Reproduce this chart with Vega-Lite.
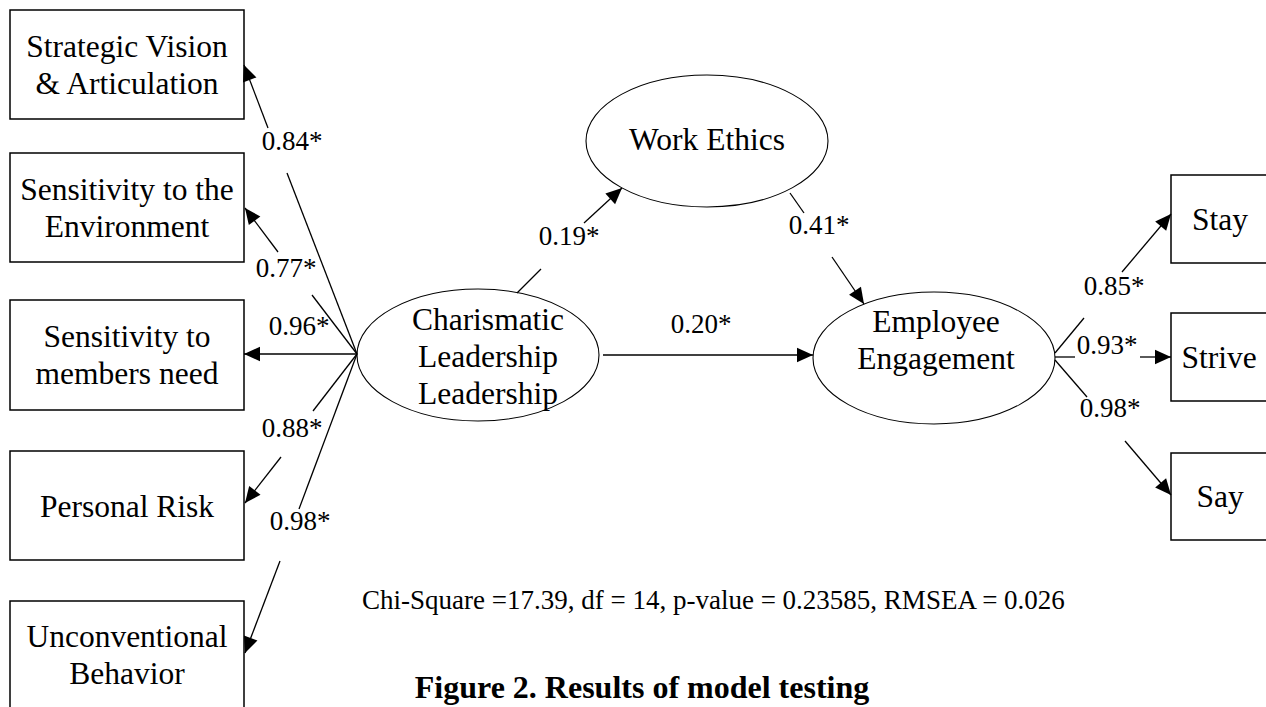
{
  "$schema": "https://vega.github.io/schema/vega-lite/v6.json",
  "width": 1266,
  "height": 707,
  "autosize": {"type": "fit", "contains": "padding"},
  "padding": 0,
  "background": "white",
  "config": {"view": {"stroke": null}},
  "datasets": {
    "boxes": [
      {"node": "Strategic Vision", "x1": 10, "x2": 244, "y1": 10, "y2": 119},
      {"node": "Sensitivity to the Environment", "x1": 10, "x2": 244, "y1": 153, "y2": 262},
      {"node": "Sensitivity to members need", "x1": 10, "x2": 244, "y1": 300, "y2": 410},
      {"node": "Personal Risk", "x1": 10, "x2": 244, "y1": 451, "y2": 560},
      {"node": "Unconventional Behavior", "x1": 10, "x2": 244, "y1": 601, "y2": 711},
      {"node": "Stay", "x1": 1171, "x2": 1272, "y1": 175, "y2": 263},
      {"node": "Strive", "x1": 1171, "x2": 1272, "y1": 313, "y2": 401},
      {"node": "Say", "x1": 1171, "x2": 1272, "y1": 453, "y2": 540}
    ],
    "ellipses": [
      {"node": "Charismatic Leadership", "cx": 478, "cy": 355},
      {"node": "Work Ethics", "cx": 707, "cy": 141},
      {"node": "Employee Engagement", "cx": 934, "cy": 358}
    ],
    "edges": [
      {"path": "CL-SV", "x": 357, "y": 354, "x2": 287, "y2": 173, "head": false},
      {"path": "CL-SV", "x": 268, "y": 128, "x2": 244, "y2": 65, "head": true},
      {"path": "CL-SE", "x": 357, "y": 354, "x2": 312, "y2": 295, "head": false},
      {"path": "CL-SE", "x": 278, "y": 252, "x2": 245, "y2": 208, "head": true},
      {"path": "CL-SM", "x": 357, "y": 354, "x2": 244, "y2": 354, "head": true},
      {"path": "CL-PR", "x": 357, "y": 354, "x2": 313, "y2": 411, "head": false},
      {"path": "CL-PR", "x": 281, "y": 457, "x2": 245, "y2": 503, "head": true},
      {"path": "CL-UB", "x": 357, "y": 354, "x2": 299, "y2": 509, "head": false},
      {"path": "CL-UB", "x": 280, "y": 561, "x2": 245, "y2": 653, "head": true},
      {"path": "CL-WE", "x": 517, "y": 293, "x2": 541, "y2": 269, "head": false},
      {"path": "CL-WE", "x": 584, "y": 223, "x2": 622, "y2": 188, "head": true},
      {"path": "WE-EE", "x": 790, "y": 193, "x2": 804, "y2": 213, "head": false},
      {"path": "WE-EE", "x": 832, "y": 257, "x2": 864, "y2": 304, "head": true},
      {"path": "CL-EE", "x": 603, "y": 355, "x2": 813, "y2": 355, "head": true},
      {"path": "EE-Stay", "x": 1055, "y": 353, "x2": 1084, "y2": 318, "head": false},
      {"path": "EE-Stay", "x": 1122, "y": 272, "x2": 1171, "y2": 214, "head": true},
      {"path": "EE-Strive", "x": 1055, "y": 357, "x2": 1075, "y2": 357, "head": false},
      {"path": "EE-Strive", "x": 1140, "y": 357, "x2": 1171, "y2": 357, "head": true},
      {"path": "EE-Say", "x": 1055, "y": 360, "x2": 1087, "y2": 397, "head": false},
      {"path": "EE-Say", "x": 1125, "y": 441, "x2": 1171, "y2": 495, "head": true}
    ],
    "nodeText": [
      {"text": ["Strategic Vision", "& Articulation"], "x": 127, "y": 57},
      {"text": ["Sensitivity to the", "Environment"], "x": 127, "y": 200},
      {"text": ["Sensitivity to", "members need"], "x": 127, "y": 347},
      {"text": ["Personal Risk"], "x": 127, "y": 517},
      {"text": ["Unconventional", "Behavior"], "x": 127, "y": 647},
      {"text": ["Charismatic", "Leadership", "Leadership"], "x": 488, "y": 330},
      {"text": ["Work Ethics"], "x": 707, "y": 150},
      {"text": ["Employee", "Engagement"], "x": 936, "y": 332},
      {"text": ["Stay"], "x": 1220, "y": 230},
      {"text": ["Strive"], "x": 1219, "y": 368},
      {"text": ["Say"], "x": 1220, "y": 507}
    ],
    "coef": [
      {"text": "0.84*", "x": 292, "y": 150},
      {"text": "0.77*", "x": 286, "y": 277},
      {"text": "0.96*", "x": 299, "y": 335},
      {"text": "0.88*", "x": 292, "y": 437},
      {"text": "0.98*", "x": 300, "y": 530},
      {"text": "0.19*", "x": 569, "y": 245},
      {"text": "0.41*", "x": 819, "y": 234},
      {"text": "0.20*", "x": 701, "y": 333},
      {"text": "0.85*", "x": 1114, "y": 295},
      {"text": "0.93*", "x": 1107, "y": 354},
      {"text": "0.98*", "x": 1110, "y": 417}
    ],
    "fit": [
      {"text": "Chi-Square =17.39, df = 14, p-value = 0.23585, RMSEA = 0.026", "x": 362, "y": 609}
    ],
    "caption": [
      {"text": "Figure 2. Results of model testing", "x": 642, "y": 698}
    ]
  },
  "resolve": {"scale": {"x": "shared", "y": "shared"}},
  "layer": [
    {
      "data": {"name": "boxes"},
      "mark": {"type": "rect", "fill": "white", "stroke": "black", "strokeWidth": 1.5, "clip": true},
      "encoding": {
        "x": {"field": "x1", "type": "quantitative", "scale": {"domain": [0, 1266], "nice": false, "zero": false}, "axis": null},
        "x2": {"field": "x2"},
        "y": {"field": "y1", "type": "quantitative", "scale": {"domain": [0, 707], "nice": false, "zero": false, "reverse": true}, "axis": null},
        "y2": {"field": "y2"}
      }
    },
    {
      "data": {"name": "ellipses"},
      "mark": {"type": "point", "filled": true, "fill": "white", "stroke": "black", "strokeWidth": 1.1, "opacity": 1, "shape": "M-1,0A1,0.545,0,1,1,1,0A1,0.545,0,1,1,-1,0Z", "size": 58564},
      "encoding": {
        "x": {"field": "cx", "type": "quantitative"},
        "y": {"field": "cy", "type": "quantitative"}
      }
    },
    {
      "data": {"name": "edges"},
      "mark": {"type": "rule", "stroke": "black", "strokeWidth": 1.3},
      "encoding": {
        "x": {"field": "x", "type": "quantitative"},
        "y": {"field": "y", "type": "quantitative"},
        "x2": {"field": "x2"},
        "y2": {"field": "y2"}
      }
    },
    {
      "data": {"name": "edges"},
      "transform": [
        {"filter": "datum.head"},
        {"calculate": "atan2(datum.x2 - datum.x, datum.y - datum.y2) * 180 / PI", "as": "ang"}
      ],
      "mark": {"type": "point", "filled": true, "fill": "black", "strokeWidth": 0, "opacity": 1, "shape": "M0,0L-0.45,1L0.45,1Z", "size": 1024},
      "encoding": {
        "x": {"field": "x2", "type": "quantitative"},
        "y": {"field": "y2", "type": "quantitative"},
        "angle": {"field": "ang", "type": "quantitative", "scale": null}
      }
    },
    {
      "data": {"name": "nodeText"},
      "mark": {"type": "text", "font": "Liberation Serif", "fontSize": 31.5, "lineHeight": 37, "align": "center", "baseline": "alphabetic", "color": "black"},
      "encoding": {
        "x": {"field": "x", "type": "quantitative"},
        "y": {"field": "y", "type": "quantitative"},
        "text": {"field": "text"}
      }
    },
    {
      "data": {"name": "coef"},
      "mark": {"type": "text", "font": "Liberation Serif", "fontSize": 27, "align": "center", "baseline": "alphabetic", "color": "black"},
      "encoding": {
        "x": {"field": "x", "type": "quantitative"},
        "y": {"field": "y", "type": "quantitative"},
        "text": {"field": "text"}
      }
    },
    {
      "data": {"name": "fit"},
      "mark": {"type": "text", "font": "Liberation Serif", "fontSize": 27, "align": "left", "baseline": "alphabetic", "color": "black"},
      "encoding": {
        "x": {"field": "x", "type": "quantitative"},
        "y": {"field": "y", "type": "quantitative"},
        "text": {"field": "text"}
      }
    },
    {
      "data": {"name": "caption"},
      "mark": {"type": "text", "font": "Liberation Serif", "fontSize": 32, "fontWeight": "bold", "align": "center", "baseline": "alphabetic", "color": "black"},
      "encoding": {
        "x": {"field": "x", "type": "quantitative"},
        "y": {"field": "y", "type": "quantitative"},
        "text": {"field": "text"}
      }
    }
  ]
}
